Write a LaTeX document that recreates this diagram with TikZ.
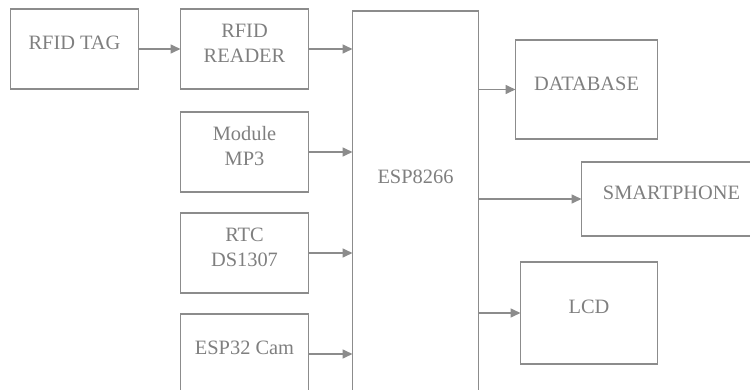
\documentclass[tikz,border=0pt]{standalone}
\usepackage{fontspec}
\setmainfont{Liberation Serif}
\usetikzlibrary{positioning}
\usetikzlibrary{arrows.meta}
\definecolor{lineGray}{HTML}{8C8C8C}
\definecolor{textGray}{HTML}{7F7F7F}

\begin{document}
\begin{tikzpicture}[inner sep=0.0 pt, outer sep=0.0 pt, align=center, text=textGray, line width=0.8pt,
    font=\fontsize{10.2}{12.5}\selectfont,
    block/.style={draw=lineGray, rectangle, text depth=6pt, minimum width=\boxWidth, minimum height=\boxHeight},
    link/.style={draw=lineGray, -{Triangle[length=5pt, width=4.5pt]}}]
    \pgfmathsetmacro{\boxWidth}{64}
    \pgfmathsetmacro{\boxHeight}{40}
    \pgfmathsetmacro{\espWidth}{63}
    \pgfmathsetmacro{\espHeight}{200}
    \pgfmathsetmacro{\gap}{10.5}

    \useasboundingbox (0,0) rectangle (375pt,-195pt);

    % inputs
    \node (tag) [block] at (37.25pt,-24.5pt) {RFID TAG};
    \node (reader) [block, right=\gap*2pt of tag] {RFID\\READER};
    \node (mp3) [block, below=\gap*1pt+1pt of reader] {Module\\MP3};
    \node (rtc) [block, below=\gap*1pt of mp3] {RTC\\DS1307};
    \node (cam) [block, below=\gap*1pt of rtc] {ESP32 Cam};

    % controller
    \node (esp) [draw=lineGray, rectangle, minimum width=\espWidth, minimum height=\espHeight, right=22pt of reader.north east, anchor=north west, yshift=-1pt] {};
    \node (esp_text) at ([yshift=-83pt]esp.north) {ESP8266};

    % outputs
    \node (db) [block, minimum width=71, minimum height=49.5, anchor=north west] at ([xshift=18.5pt, yshift=-14.5pt]esp.north east) {DATABASE};
    \node (phone) [block, minimum width=90, minimum height=37, anchor=north west] at ([xshift=51.5pt, yshift=-75.5pt]esp.north east) {SMARTPHONE};
    \node (lcd) [block, minimum width=68.5, minimum height=51, anchor=north west] at ([xshift=21pt, yshift=-125.5pt]esp.north east) {LCD};

    \draw [link] (tag.east) -- (tag.east -| reader.west);
    \draw [link] (reader.east) -- (reader.east -| esp.west);
    \draw [link] (mp3.east) -- (mp3.east -| esp.west);
    \draw [link] (rtc.east) -- (rtc.east -| esp.west);
    \draw [link] (cam.east) -- (cam.east -| esp.west);

    \draw [link] (esp.east |- db.west) -- (db.west);
    \draw [link] (esp.east |- phone.west) -- (phone.west);
    \draw [link] (esp.east |- lcd.west) -- (lcd.west);
\end{tikzpicture}
\end{document}
